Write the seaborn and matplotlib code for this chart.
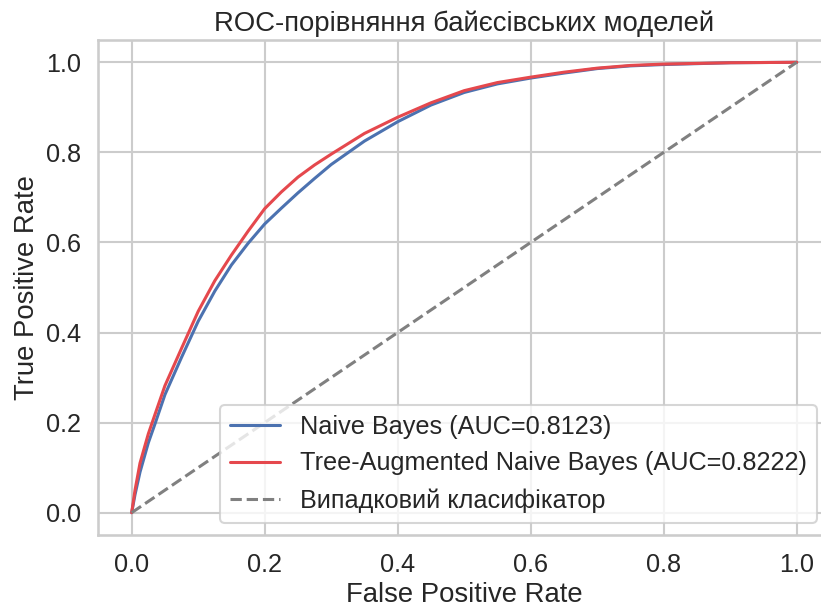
import numpy as np
import pandas as pd
import matplotlib
matplotlib.use('Agg')
import matplotlib.pyplot as plt
import seaborn as sns

sns.set_theme(style='whitegrid', context='talk', font_scale=1.1)
plt.rcParams['font.family'] = ['Liberation Sans', 'DejaVu Sans']

# ROC points
fpr = [0.0, 0.005, 0.0125, 0.025, 0.035, 0.05, 0.075, 0.1, 0.125, 0.15, 0.175,
       0.2, 0.225, 0.25, 0.275, 0.3, 0.35, 0.4, 0.45, 0.5, 0.55, 0.6, 0.65,
       0.7, 0.75, 0.8, 0.9, 1.0]
tpr_nb = [0.0, 0.04, 0.09, 0.155, 0.197, 0.262, 0.345, 0.425, 0.492, 0.55, 0.598,
          0.641, 0.676, 0.71, 0.742, 0.773, 0.825, 0.868, 0.905, 0.933, 0.952,
          0.965, 0.976, 0.986, 0.992, 0.995, 0.999, 1.0]
tpr_tan = [0.0, 0.05, 0.11, 0.175, 0.218, 0.282, 0.365, 0.447, 0.515, 0.572, 0.625,
           0.675, 0.712, 0.745, 0.772, 0.796, 0.842, 0.878, 0.91, 0.937, 0.955,
           0.967, 0.978, 0.987, 0.993, 0.996, 0.999, 1.0]
auc_nb = 0.8123
auc_tan = 0.8222
chance = [0.0, 1.0]

fig = plt.figure(figsize=(8.21, 6.09), dpi=100)
ax = fig.add_axes([0.1199, 0.1212, 0.8910, 0.8135])

sns.lineplot(x=fpr, y=tpr_nb, ax=ax, color='#4C72B0', lw=2.2,
             label=f'Naive Bayes (AUC={auc_nb:.4f})')
sns.lineplot(x=fpr, y=tpr_tan, ax=ax, color='#E5484D', lw=2.2,
             label=f'Tree-Augmented Naive Bayes (AUC={auc_tan:.4f})')
sns.lineplot(x=chance, y=chance, ax=ax, color='gray', lw=2.2, linestyle='--',
             label='Випадковий класифікатор')

ax.set_title('ROC-порівняння байєсівських моделей')
ax.set_xlabel('False Positive Rate')
ax.set_ylabel('True Positive Rate')
ax.legend(loc='lower right')

plt.savefig('out.png', dpi=100)
